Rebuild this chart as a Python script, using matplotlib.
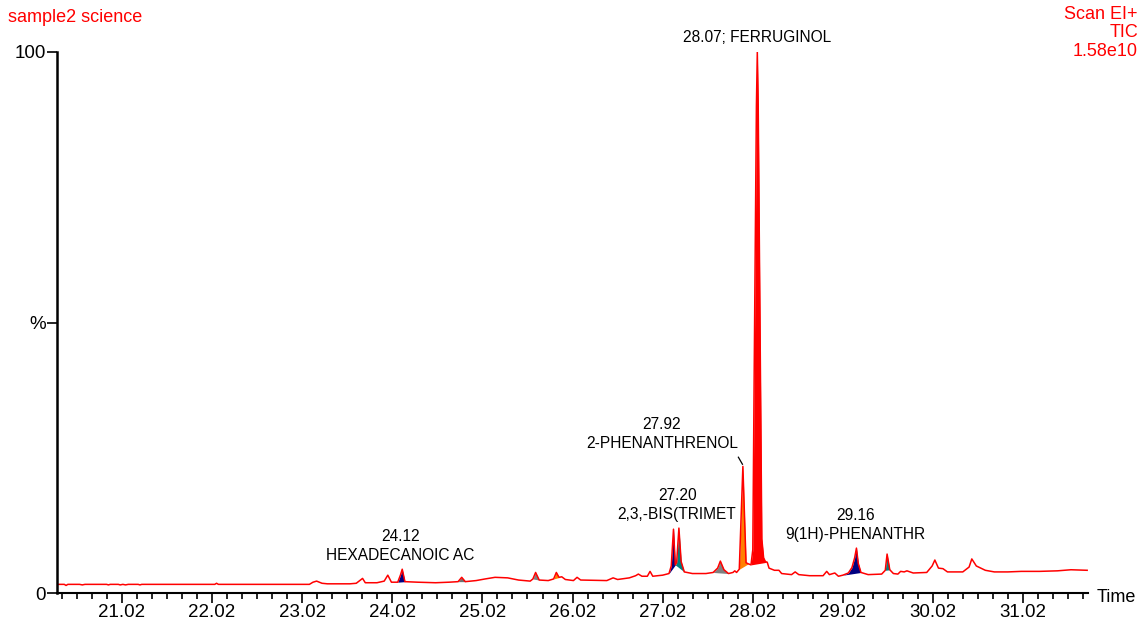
import matplotlib
matplotlib.use("Agg")
import matplotlib.pyplot as plt
from matplotlib.ticker import FixedLocator
import numpy as np

plt.rcParams['font.family'] = ['Liberation Sans', 'DejaVu Sans']

# chromatogram trace (time in min, % of max)
time = [20.30, 20.38, 20.40, 20.42, 20.55, 20.58, 20.61, 20.85, 20.87, 20.89,
        20.98, 21.00, 21.03, 21.06, 21.09, 21.20, 21.22, 21.24, 22.05, 22.07,
        22.09, 23.10, 23.14, 23.18, 23.21, 23.24, 23.30, 23.55, 23.62, 23.69,
        23.72, 23.85, 23.93, 23.97, 24.01, 24.08, 24.11, 24.13, 24.16, 24.30,
        24.50, 24.65, 24.75, 24.79, 24.83, 24.95, 25.05, 25.16, 25.30, 25.42,
        25.55, 25.58, 25.61, 25.65, 25.75, 25.81, 25.84, 25.87, 25.90, 25.94,
        26.03, 26.07, 26.11, 26.40, 26.47, 26.52, 26.65, 26.72, 26.75, 26.79,
        26.85, 26.88, 26.91, 27.02, 27.09, 27.115, 27.14, 27.16, 27.175, 27.20,
        27.225, 27.26, 27.35, 27.50, 27.58, 27.63, 27.66, 27.70, 27.75, 27.80,
        27.82, 27.84, 27.87, 27.91, 27.945, 27.97, 28.00, 28.02, 28.035, 28.06,
        28.07, 28.08, 28.105, 28.12, 28.14, 28.16, 28.18, 28.20, 28.26, 28.31,
        28.34, 28.45, 28.49, 28.53, 28.65, 28.80, 28.84, 28.87, 28.93, 28.97,
        29.02, 29.08, 29.12, 29.15, 29.17, 29.19, 29.22, 29.30, 29.45, 29.49,
        29.51, 29.54, 29.58, 29.63, 29.66, 29.70, 29.73, 29.80, 29.95, 30.01,
        30.04, 30.08, 30.13, 30.18, 30.35, 30.42, 30.45, 30.50, 30.60, 30.70,
        30.85, 31.00, 31.20, 31.40, 31.55, 31.73]
signal = [1.6, 1.6, 1.4, 1.6, 1.6, 1.5, 1.6, 1.6, 1.5, 1.6,
          1.6, 1.5, 1.6, 1.5, 1.6, 1.6, 1.5, 1.6, 1.6, 1.8,
          1.6, 1.6, 2.0, 2.2, 2.0, 1.8, 1.7, 1.7, 1.8, 2.7,
          1.9, 1.9, 2.2, 3.3, 2.0, 2.0, 3.3, 4.4, 2.1, 2.0,
          1.9, 2.0, 2.1, 2.9, 2.1, 2.3, 2.6, 2.9, 2.8, 2.4,
          2.2, 2.6, 3.8, 2.4, 2.3, 2.6, 3.8, 2.9, 3.0, 2.5,
          2.3, 2.9, 2.4, 2.3, 2.8, 2.5, 2.8, 3.2, 3.5, 3.1,
          3.1, 4.0, 3.1, 3.3, 3.6, 5.0, 11.8, 5.2, 5.6, 12.0,
          5.8, 3.9, 3.6, 3.6, 3.8, 4.6, 5.9, 4.3, 3.6, 3.8,
          4.1, 3.8, 4.4, 23.4, 5.6, 5.4, 5.2, 8.0, 40.0, 90.0,
          100.0, 90.0, 40.0, 10.0, 6.5, 5.8, 5.7, 4.6, 4.2, 4.2,
          3.6, 3.4, 3.9, 3.4, 3.2, 3.2, 4.0, 3.4, 3.7, 3.1,
          3.3, 3.7, 4.7, 6.5, 8.3, 5.5, 3.8, 3.4, 3.5, 4.2,
          7.2, 4.3, 3.6, 3.5, 4.0, 3.9, 4.1, 3.7, 3.8, 5.0,
          6.1, 4.6, 4.5, 3.9, 3.9, 4.8, 6.3, 5.0, 4.2, 3.9,
          3.9, 4.0, 4.0, 4.1, 4.3, 4.2]

# integrated peak areas: start, end, fill colour
area_start = [24.08, 24.75, 25.58, 25.81, 27.09, 27.16, 27.58, 27.87, 28.00, 29.02, 29.49]
area_end = [24.16, 24.83, 25.65, 25.90, 27.16, 27.26, 27.75, 27.97, 28.18, 29.22, 29.54]
area_color = ['#000080', '#707070', '#808080', '#ff8000', '#000080', '#008080',
              '#808080', '#ff8000', '#ff0000', '#000080', '#008080']

# peak labels
label_time = [28.07, 27.01, 27.18, 24.11, 29.16]
label_level = [101.3, 26.2, 13.1, 5.5, 9.4]
label_text = ['28.07; FERRUGINOL', '27.92\n2-PHENANTHRENOL', '27.20\n2,3,-BIS(TRIMET',
              '24.12\nHEXADECANOIC AC', '29.16\n9(1H)-PHENANTHR']

t = np.array(time)
s = np.array(signal)

fig = plt.figure(figsize=(11.41, 6.22), dpi=100)
ax = fig.add_axes([0.0500, 0.0466, 0.9036, 0.8698])

for t0, t1, c in zip(area_start, area_end, area_color):
    m = (t >= t0) & (t <= t1)
    tt = t[m]
    y0 = s[m][0]
    y1 = s[m][-1]
    base = y0 + (y1 - y0) * (tt - tt[0]) / (tt[-1] - tt[0])
    ax.fill_between(tt, s[m], base, color=c, lw=0)

ax.plot(t, s, color='#ff0000', lw=1.1)

for x, y, txt in zip(label_time, label_level, label_text):
    ax.text(x, y, txt, ha='center', va='bottom', fontsize=11.2, linespacing=1.35,
            clip_on=False)

# leader line for 27.92
ax.plot([27.86, 27.905], [25.1, 23.8], color='black', lw=0.9)

ax.set_xlim(20.30, 31.74)
ax.set_ylim(0, 100)
ax.spines['top'].set_visible(False)
ax.spines['right'].set_visible(False)
ax.spines['left'].set_linewidth(1.8)
ax.spines['bottom'].set_linewidth(1.5)

ax.xaxis.set_major_locator(FixedLocator(np.arange(21.02, 31.5, 1.0)))
ax.xaxis.set_major_formatter(plt.FuncFormatter(lambda v, p: '%.2f' % v))
ax.xaxis.set_minor_locator(FixedLocator(np.arange(21.02 - 4 / 6, 31.74, 1 / 6)))
ax.tick_params(axis='x', which='major', direction='out', length=7, width=1.2,
               labelsize=13.5, pad=1)
ax.tick_params(axis='x', which='minor', direction='out', length=4, width=1.2)
ax.set_yticks([0, 50, 100])
ax.set_yticklabels(['0', '%', '100'])
ax.tick_params(axis='y', direction='out', length=7, width=1.2, labelsize=13.5, pad=1)

fig.text(8 / 1141, 1 - 18 / 622, 'sample2 science', color='#ff0000', fontsize=13,
         ha='left', va='center')
fig.text(1138 / 1141, 1 - 6 / 622, 'Scan EI+\nTIC\n1.58e10', color='#ff0000',
         fontsize=13, ha='right', va='top', linespacing=1.1)
fig.text(1097 / 1141, 1 - 597 / 622, 'Time', fontsize=13, ha='left', va='center')

fig.savefig('out.png', dpi=100)
